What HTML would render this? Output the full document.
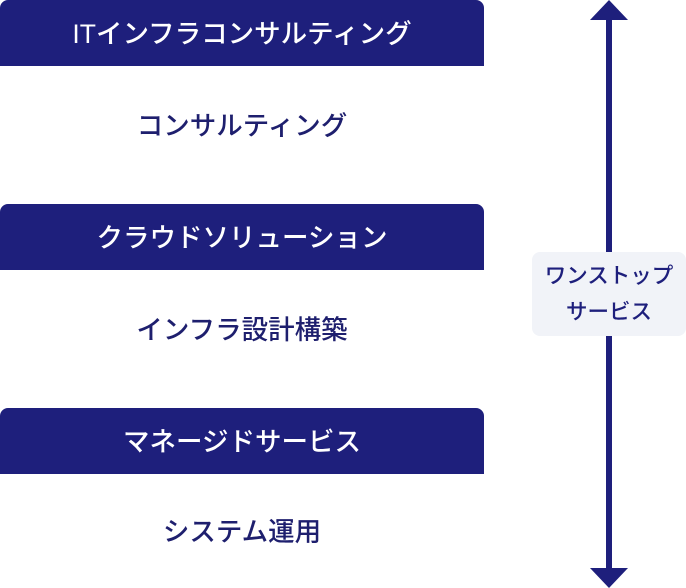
<!DOCTYPE html>
<html><head><meta charset="utf-8"><style>
body{margin:0;width:686px;height:588px;background:#fff;position:relative;overflow:hidden;font-family:"Liberation Sans","Noto Sans CJK JP",sans-serif;}
.h{position:absolute;left:0;width:484px;height:66px;background:#1e1f7c;border-radius:8px 8px 0 0;color:#fff;font-size:26.5px;font-weight:500;line-height:68px;text-align:center;}
.t{position:absolute;left:0;width:484px;text-align:center;color:#1e1f6e;font-size:26.5px;font-weight:500;line-height:32px;}
.lab{position:absolute;left:532px;top:252px;width:154px;height:84px;background:#f1f3f8;border-radius:8px;color:#1e1f7c;font-size:21.5px;font-weight:500;text-align:center;line-height:36px;padding-top:6px;box-sizing:border-box;}
</style></head><body>
<div class="h" style="top:0">ITインフラコンサルティング</div>
<div class="t" style="top:110px">コンサルティング</div>
<div class="h" style="top:204px">クラウドソリューション</div>
<div class="t" style="top:314px">インフラ設計構築</div>
<div class="h" style="top:408px">マネージドサービス</div>
<div class="t" style="top:516px">システム運用</div>
<svg style="position:absolute;left:0;top:0" width="686" height="588">
<rect x="606" y="18" width="6" height="552" fill="#1e1f7c"/>
<polygon points="609,0 628,20 590,20" fill="#1e1f7c"/>
<polygon points="609,588 628,568 590,568" fill="#1e1f7c"/>
</svg>
<div class="lab">ワンストップ<br>サービス</div>
</body></html>
